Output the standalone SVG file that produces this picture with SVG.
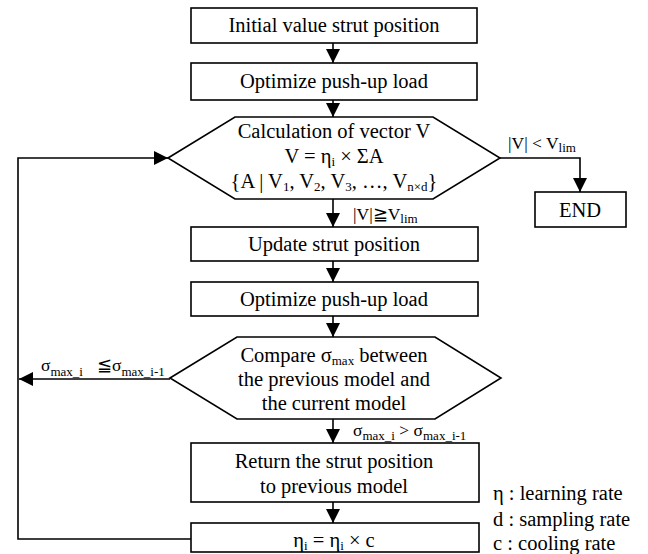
<svg xmlns="http://www.w3.org/2000/svg" width="648" height="554" viewBox="0 0 648 554">
<style>
.n{fill:#fff;stroke:#000;stroke-width:1.6}
.c{fill:none;stroke:#000;stroke-width:1.6}
text{font-family:"Liberation Serif","Times New Roman",serif;font-size:20.5px;fill:#000}
.m{text-anchor:middle}
.l{font-size:17.5px}
.s{font-size:13px}
</style>
<defs>
<marker id="ah" viewBox="0 0 14 14" refX="14" refY="7" markerWidth="14" markerHeight="14" orient="auto" markerUnits="userSpaceOnUse">
<path d="M0,0 L14,7 L0,14 z" fill="#000"/>
</marker>
</defs>
<rect width="648" height="554" fill="#fff"/>
<g id="connectors">
<path class="c" d="M333,43 V63" marker-end="url(#ah)"/>
<path class="c" d="M333,100 V117" marker-end="url(#ah)"/>
<path class="c" d="M333,199 V227" marker-end="url(#ah)"/>
<path class="c" d="M333,261 V282" marker-end="url(#ah)"/>
<path class="c" d="M333,316 V337" marker-end="url(#ah)"/>
<path class="c" d="M333,419 V443" marker-end="url(#ah)"/>
<path class="c" d="M333,502 V523" marker-end="url(#ah)"/>
<path class="c" d="M500,158 H580 V192" marker-end="url(#ah)"/>
<path class="c" d="M170,379 H19" marker-end="url(#ah)"/>
<path class="c" d="M191,539 H18 V158 H168" marker-end="url(#ah)"/>
</g>
<g id="labels">
<text class="l" x="508" y="149">|V| &lt; V<tspan class="s" dy="3">lim</tspan></text>
<text class="l" x="353" y="220">|V|≧V<tspan class="s" dy="3">lim</tspan></text>
<text class="l" x="41" y="371">σ<tspan class="s" dy="5">max_i</tspan><tspan dy="-5" x="97">≦σ</tspan><tspan class="s" dy="5">max_i-1</tspan></text>
<text class="l" x="353" y="436">σ<tspan class="s" dy="4">max_i</tspan><tspan dy="-4"> &gt; σ</tspan><tspan class="s" dy="4">max_i-1</tspan></text>
</g>
<g id="n1">
<rect class="n" x="191" y="8" width="286" height="35"/>
<text class="m" x="334" y="32">Initial value strut position</text>
</g>
<g id="n2">
<rect class="n" x="191" y="63" width="286" height="37"/>
<text class="m" x="334" y="88">Optimize push-up load</text>
</g>
<g id="n3">
<polygon class="n" points="168,158 235,117 433,117 500,158 433,199 235,199"/>
<text class="m" x="334" y="138">Calculation of vector V</text>
<text class="m" x="334" y="163">V = η<tspan class="s" dy="3">i</tspan><tspan dy="-3"> × ΣA</tspan></text>
<text class="m" x="334" y="188">{A | V<tspan class="s" dy="3">1</tspan><tspan dy="-3">, V</tspan><tspan class="s" dy="3">2</tspan><tspan dy="-3">, V</tspan><tspan class="s" dy="3">3</tspan><tspan dy="-3">, …, V</tspan><tspan class="s" dy="3">n×d</tspan><tspan dy="-3">}</tspan></text>
</g>
<g id="end">
<rect class="n" x="535" y="192" width="91" height="35"/>
<text class="m" x="580" y="217">END</text>
</g>
<g id="n4">
<rect class="n" x="191" y="227" width="287" height="34"/>
<text class="m" x="334" y="251">Update strut position</text>
</g>
<g id="n5">
<rect class="n" x="191" y="282" width="287" height="34"/>
<text class="m" x="334" y="306">Optimize push-up load</text>
</g>
<g id="n6">
<polygon class="n" points="170,378 237,337 435,337 501,378 435,419 237,419"/>
<text class="m" x="334" y="362">Compare σ<tspan class="s" dy="3">max</tspan><tspan dy="-3"> between</tspan></text>
<text class="m" x="334" y="386">the previous model and</text>
<text class="m" x="334" y="410">the current model</text>
</g>
<g id="n7">
<rect class="n" x="191" y="443" width="288" height="59"/>
<text class="m" x="334" y="468">Return the strut position</text>
<text class="m" x="334" y="493">to previous model</text>
</g>
<g id="n8">
<rect class="n" x="191" y="523" width="288" height="29"/>
<text class="m" x="334" y="547">η<tspan class="s" dy="3">i</tspan><tspan dy="-3"> = η</tspan><tspan class="s" dy="3">i</tspan><tspan dy="-3"> × c</tspan></text>
</g>
<g id="legend">
<text x="493" y="500">η : learning rate</text>
<text x="493" y="526">d : sampling rate</text>
<text x="493" y="550">c : cooling rate</text>
</g>
</svg>
